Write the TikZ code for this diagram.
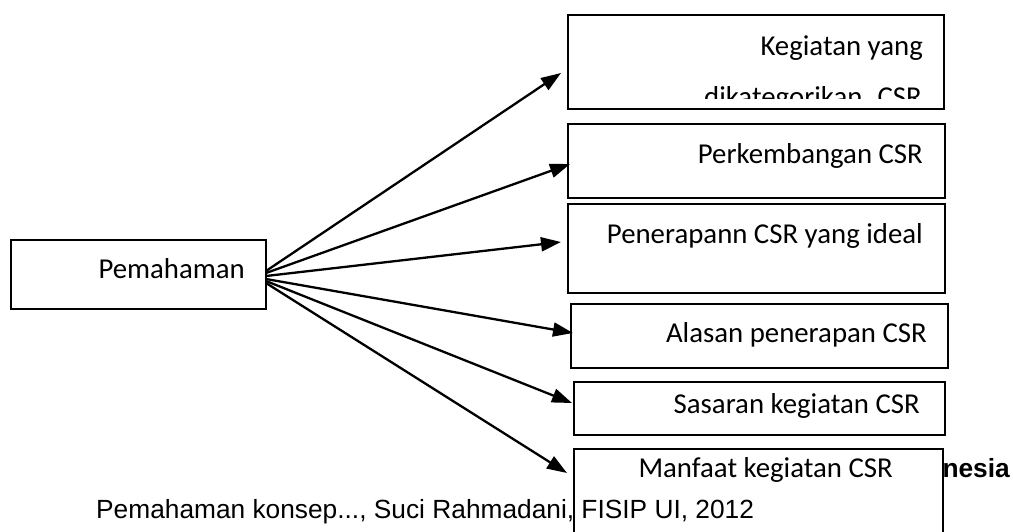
\documentclass[tikz,border=0pt]{standalone}
\usepackage{fontspec}
\setmainfont{Carlito}
\newfontfamily\footfont{Liberation Sans}
\usetikzlibrary{arrows.meta,fit}
\tikzset{
  box/.style={draw, line width=1.5pt, fill=white, inner sep=0pt},
  lbl/.style={font=\fontsize{28.8}{34}\selectfont, inner sep=0pt, anchor=base east},
  foot/.style={font=\footfont\fontsize{26.3}{30}\selectfont, inner sep=0pt},
  arr/.style={line width=2.3pt, -{Triangle[length=20pt,width=14pt]}},
}
\begin{document}
\begin{tikzpicture}[x=1pt, y=-1pt]
\useasboundingbox (0,0) rectangle (1013,531);
\clip (0,0) rectangle (1013,531);

% left box
\node[box, fit={(11,240) (266,309)}] (pem) {};
\node[lbl] (pemtxt) at (245,278) {Pemahaman};

% right boxes
\node[box, fit={(568,15) (944,109)}] (keg) {};
\node[lbl] (kegtxt) at (923,55) {Kegiatan yang};
\begin{scope}
\clip (568,15) rectangle (944,98);
\node[lbl] (kegtxtb) at (922,106) {dikategorikan\hspace{0.3em} CSR};
\end{scope}

\node[box, fit={(568,124) (945,198)}] (perk) {};
\node[lbl] (perktxt) at (923,163) {Perkembangan CSR};

\node[box, fit={(568,204) (945,293)}] (pen) {};
\node[lbl] (pentxt) at (923,243) {Penerapann CSR yang ideal};

\node[box, fit={(571,304) (948,368)}] (alas) {};
\node[lbl] (alastxt) at (927,342) {Alasan penerapan CSR};

\node[box, fit={(574,382) (945,435)}] (sas) {};
\node[lbl] (sastxt) at (920,413) {Sasaran kegiatan CSR};

\node[foot, anchor=base east, font=\footfont\bfseries\fontsize{26.3}{30}\selectfont] (univ) at (1010,477) {nesia};
\node[box, fit={(574,449) (943,560)}] (manf) {};
\node[lbl] (manftxt) at (893,477) {Manfaat kegiatan CSR};

% footer
\node[foot, anchor=base west] (footer) at (96,518) {Pemahaman konsep..., Suci Rahmadani, FISIP UI, 2012};

% arrows
\coordinate (o1) at (266,271);
\coordinate (o2) at (266,273);
\coordinate (o3) at (266,276);
\coordinate (o4) at (266,279);
\coordinate (o5) at (266,281);
\coordinate (o6) at (266,283);
\coordinate (t1) at (561,73);
\coordinate (t2) at (570,164);
\coordinate (t3) at (561,242);
\coordinate (t4) at (573,333);
\coordinate (t5) at (572,403);
\coordinate (t6) at (567,473);
\foreach \i in {1,...,6}
  \draw[arr] (o\i) -- (t\i);

\end{tikzpicture}
\end{document}
